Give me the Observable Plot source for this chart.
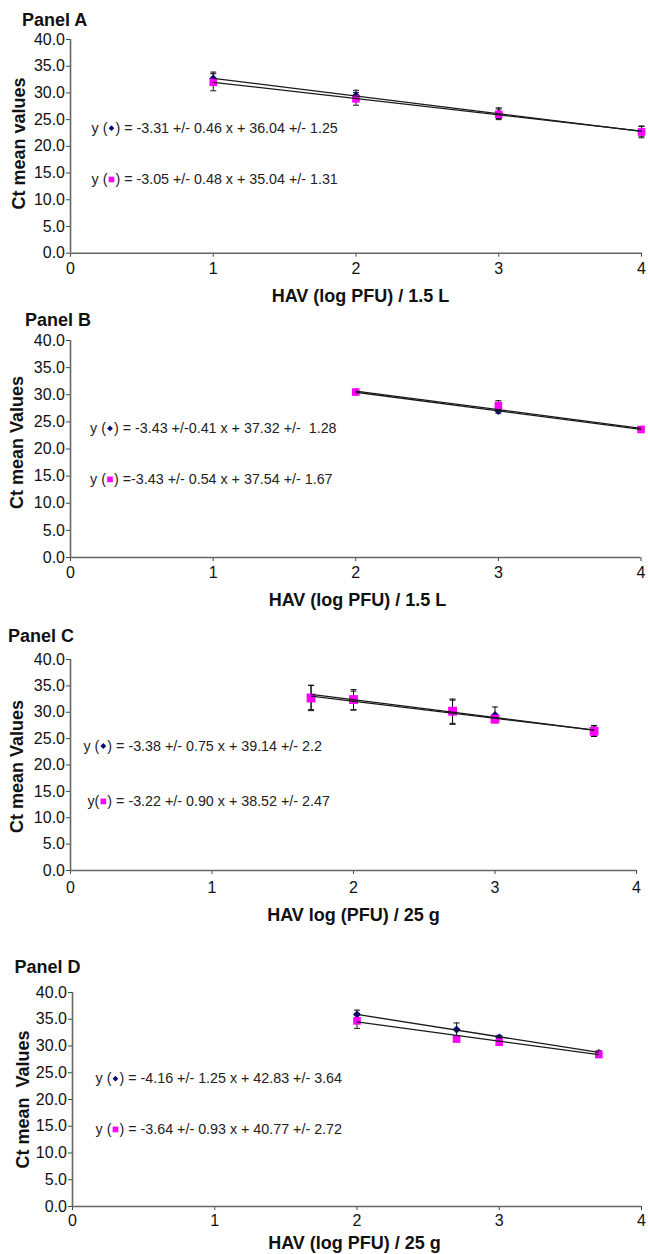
<!DOCTYPE html>
<html>
<head>
<meta charset="utf-8">
<script src="https://cdn.jsdelivr.net/npm/d3@7"></script>
<script src="https://cdn.jsdelivr.net/npm/@observablehq/plot@0.6"></script>
<style>
  body { margin: 0; background: #fff; }
  #wrap { position: relative; width: 648px; height: 1254px; font-family: "Liberation Sans", Arial, sans-serif; color: #111; overflow: hidden; }
  .title { position: absolute; font-weight: bold; font-size: 18px; line-height: 18px; white-space: pre; }
  .panel { position: absolute; left: 0; }
</style>
</head>
<body>
<div id="wrap"></div>
<script>
// ---------- data ----------
const panelNames = ["Panel A", "Panel B", "Panel C", "Panel D"];
const xLabels = ["HAV (log PFU) / 1.5 L", "HAV (log PFU) / 1.5 L", "HAV log (PFU) / 25 g", "HAV (log PFU) / 25 g"];
const yLabels = ["Ct mean values", "Ct mean Values", "Ct mean Values", "Ct mean\u00a0\u00a0Values"];
const yTicks = [0, 5, 10, 15, 20, 25, 30, 35, 40];
const xTicks = [0, 1, 2, 3, 4];

// Panel A
const xA = [1, 2, 3, 4];
const blueA = [32.7, 29.5, 26.2, 22.8];
const blueErrA = [1.2, 1.0, 1.0, 0.9];
const magA = [32.0, 28.9, 26.0, 22.7];
const magErrA = [1.6, 1.2, 1.0, 1.1];
const blueLineA = [32.73, 22.80];
const magLineA = [31.99, 22.84];
const eqBlueA = ["y (", ") = -3.31 +/- 0.46 x + 36.04 +/- 1.25"];
const eqMagA = ["y (", ") = -3.05 +/- 0.48 x + 35.04 +/- 1.31"];

// Panel B
const xB = [2, 3, 4];
const blueB = [30.5, 27.0, 23.6];
const blueErrB = [0.3, 0.4, 0.4];
const magB = [30.5, 28.0, 23.6];
const magErrB = [0.4, 0.9, 0.5];
const blueLineB = [30.46, 23.60];
const magLineB = [30.68, 23.82];
const eqBlueB = ["y (", ") = -3.43 +/-0.41 x + 37.32 +/-  1.28"];
const eqMagB = ["y (", ") =-3.43 +/- 0.54 x + 37.54 +/- 1.67"];

// Panel C
const xC = [1.7, 2, 2.7, 3, 3.7];
const blueC = [32.8, 32.2, 30.0, 29.5, 26.5];
const blueErrC = [2.3, 1.8, 2.3, 1.5, 1.0];
const magC = [32.7, 32.4, 30.2, 28.7, 26.4];
const magErrC = [2.4, 1.9, 2.3, 0.6, 1.0];
const blueLineC = [33.39, 26.63];
const magLineC = [33.05, 26.61];
const eqBlueC = ["y (", ") = -3.38 +/- 0.75 x + 39.14 +/- 2.2"];
const eqMagC = ["y(", ") = -3.22 +/- 0.90 x + 38.52 +/- 2.47"];

// Panel D
const xD = [2, 2.7, 3, 3.7];
const blueD = [35.9, 33.1, 31.6, 28.7];
const blueErrD = [0.8, 1.2, 0.4, 0.4];
const magD = [34.7, 31.3, 30.7, 28.4];
const magErrD = [1.4, 0.3, 0.4, 0.3];
const blueLineD = [35.9, 28.8];
const magLineD = [34.5, 28.4];
const eqBlueD = ["y (", ") = -4.16 +/- 1.25 x + 42.83 +/- 3.64"];
const eqMagD = ["y (", ") = -3.64 +/- 0.93 x + 40.77 +/- 2.72"];

// equation anchor (marker) positions in data units: [x, yBlue, yMag]
const eqPosA = [0.287, 23.4, 13.8];
const eqPosB = [0.277, 23.8, 14.4];
const eqPosC = [0.232, 23.6, 13.1];
const eqPosD = [0.302, 23.9, 14.4];

// ---------- layout (pixels) ----------
const layouts = [
  {plotTop: 39, plotBottom: 252.7, left: 70, right: 641, tickPad: 5.6, xLabX: 360, xLabY: 296, titleY: 19.3, titleX: 22, yLabX: 19, yLabY: 143},
  {plotTop: 340, plotBottom: 557, left: 70, right: 640.5, tickPad: 5.2, xLabX: 357, xLabY: 600, titleY: 319.5, titleX: 25, yLabX: 16.5, yLabY: 442},
  {plotTop: 659, plotBottom: 870, left: 70, right: 636, tickPad: 7.2, xLabX: 353, xLabY: 914.6, titleY: 635.3, titleX: 8, yLabX: 16.5, yLabY: 766},
  {plotTop: 992, plotBottom: 1206, left: 72, right: 641, tickPad: 4.2, xLabX: 354, xLabY: 1242.5, titleY: 966.7, titleX: 14.5, yLabX: 22.7, yLabY: 1099}
];

const panelsData = [
  {x: xA, blue: blueA, blueErr: blueErrA, mag: magA, magErr: magErrA, blueLine: blueLineA, magLine: magLineA, eqBlue: eqBlueA, eqMag: eqMagA, eqPos: eqPosA, magSize: 4.3},
  {x: xB, blue: blueB, blueErr: blueErrB, mag: magB, magErr: magErrB, blueLine: blueLineB, magLine: magLineB, eqBlue: eqBlueB, eqMag: eqMagB, eqPos: eqPosB, magSize: 4.3},
  {x: xC, blue: blueC, blueErr: blueErrC, mag: magC, magErr: magErrC, blueLine: blueLineC, magLine: magLineC, eqBlue: eqBlueC, eqMag: eqMagC, eqPos: eqPosC, magSize: 5},
  {x: xD, blue: blueD, blueErr: blueErrD, mag: magD, magErr: magErrD, blueLine: blueLineD, magLine: magLineD, eqBlue: eqBlueD, eqMag: eqMagD, eqPos: eqPosD, magSize: 4.3}
];

const NAVY = "#0a0a78";
const MAGENTA = "#ff00ff";
const FONT = "'Liberation Sans', Arial, sans-serif";

// horizontal cap symbol for error bars
const capSymbol = {
  draw(ctx, size) {
    const w = Math.sqrt(size) / 2;
    ctx.moveTo(-w, 0);
    ctx.lineTo(w, 0);
  }
};

const wrap = document.getElementById("wrap");

panelsData.forEach((P, i) => {
  const L = layouts[i];
  const marginTop = 10;
  const marginBottom = i === 3 ? 50 : 60;
  const inner = L.plotBottom - L.plotTop;
  const height = inner + marginTop + marginBottom;

  const rows = [];
  P.x.forEach((xv, j) => {
    rows.push({s: "blue", x: xv, y: P.blue[j], e: P.blueErr[j]});
    rows.push({s: "mag", x: xv, y: P.mag[j], e: P.magErr[j]});
  });
  const blueRows = rows.filter(d => d.s === "blue");
  const magRows = rows.filter(d => d.s === "mag");
  const x0 = d3.min(P.x), x1 = d3.max(P.x);
  const lines = [
    {x1: x0, y1: P.blueLine[0], x2: x1, y2: P.blueLine[1]},
    {x1: x0, y1: P.magLine[0], x2: x1, y2: P.magLine[1]}
  ];
  const eqRows = [
    {x: P.eqPos[0], y: P.eqPos[1], pre: P.eqBlue[0], post: P.eqBlue[1], s: "blue"},
    {x: P.eqPos[0], y: P.eqPos[2], pre: P.eqMag[0], post: P.eqMag[1], s: "mag"}
  ];

  const chart = Plot.plot({
    width: 648,
    height,
    marginTop,
    marginBottom,
    marginLeft: L.left,
    marginRight: 648 - L.right,
    style: {fontFamily: FONT, color: "#111", background: "transparent", overflow: "visible"},
    x: {domain: [0, 4]},
    y: {domain: [0, 40]},
    marks: [
      Plot.axisY({ticks: yTicks, tickFormat: d3.format(".1f"), tickSize: 4, tickPadding: 1.5, fontSize: 16, label: null, stroke: "#444"}),
      Plot.axisX({ticks: xTicks, tickFormat: d3.format("d"), tickSize: 4, tickPadding: L.tickPad, fontSize: 16, label: null, stroke: "#444"}),
      Plot.ruleX([0], {stroke: "#666", strokeWidth: 1.6}),
      Plot.ruleY([0], {stroke: "#666", strokeWidth: 1.6}),
      // error bars
      Plot.ruleX(rows, {x: "x", y1: d => d.y - d.e, y2: d => d.y + d.e, stroke: "#111", strokeWidth: 1}),
      Plot.dot(rows, {x: "x", y: d => d.y + d.e, symbol: capSymbol, r: 3.4, stroke: "#111", strokeWidth: 1, fill: "none"}),
      Plot.dot(rows, {x: "x", y: d => d.y - d.e, symbol: capSymbol, r: 3.4, stroke: "#111", strokeWidth: 1, fill: "none"}),
      // points
      Plot.dot(blueRows, {x: "x", y: "y", symbol: "diamond2", r: 3.6, fill: NAVY, stroke: "none"}),
      Plot.dot(magRows, {x: "x", y: "y", symbol: "square", r: P.magSize, fill: MAGENTA, stroke: "none"}),
      // regression lines
      Plot.link(lines, {x1: "x1", y1: "y1", x2: "x2", y2: "y2", stroke: "#1a1a1a", strokeWidth: 1.3}),
      // equations
      Plot.text(eqRows, {x: "x", y: "y", text: "pre", textAnchor: "end", dx: -4, fontSize: 14.3, fill: "#222"}),
      Plot.text(eqRows, {x: "x", y: "y", text: "post", textAnchor: "start", dx: 4, fontSize: 14.3, fill: "#222"}),
      Plot.dot(eqRows.filter(d => d.s === "blue"), {x: "x", y: "y", symbol: "diamond2", r: 2.6, fill: NAVY, stroke: "none"}),
      Plot.dot(eqRows.filter(d => d.s === "mag"), {x: "x", y: "y", symbol: "square", r: 3.2, fill: MAGENTA, stroke: "none"}),
      // axis labels
      Plot.text([yLabels[i]], {text: d => d, frameAnchor: "top-left", textAnchor: "middle", lineAnchor: "middle", dx: L.yLabX - L.left, dy: L.yLabY - L.plotTop, rotate: -90, fontSize: 18, fontWeight: "bold", fill: "#111"}),
      Plot.text([xLabels[i]], {text: d => d, frameAnchor: "top-left", textAnchor: "middle", lineAnchor: "middle", dx: L.xLabX - L.left, dy: L.xLabY - L.plotTop, fontSize: 18, fontWeight: "bold", fill: "#111"})
    ]
  });
  chart.classList.add("panel");
  chart.style.top = (L.plotTop - marginTop) + "px";
  wrap.appendChild(chart);

  const t = document.createElement("div");
  t.className = "title";
  t.textContent = panelNames[i];
  t.style.left = L.titleX + "px";
  t.style.top = (L.titleY - 8.8) + "px";
  wrap.appendChild(t);
});
</script>
</body>
</html>
